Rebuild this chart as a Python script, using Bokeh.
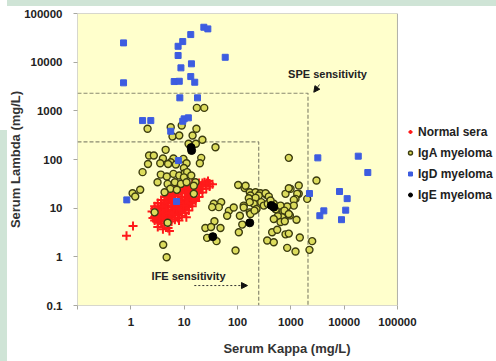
from bokeh.plotting import figure
from bokeh.models import (Range1d, FixedTicker, CustomJSTickFormatter, Label, Arrow,
                          NormalHead, Legend, LegendItem)
from bokeh.embed import file_html
from bokeh.resources import INLINE

# ---------------- data (kappa mg/L, lambda mg/L) ----------------
normal_sera = [
    (0.83, 2.7), (1.1, 4.3), (3.2, 4.1), (4.0, 3.7), (5.3, 3.4), (5.0, 3.9), (2.6, 6.3),
    (34, 31), (24, 34), (28, 36), (2.5, 8.5), (11, 6.5), (8, 5.6),
    (2.8, 5.6), (2.8, 6.7), (2.8, 8.1), (2.8, 9.7), (2.8, 11),
    (3.2, 5.1), (3.2, 6.1), (3.2, 7.4), (3.2, 8.9), (3.2, 10.7), (3.2, 12.8),
    (3.7, 4.9), (3.7, 5.9), (3.7, 7.1), (3.7, 8.5), (3.7, 10.2), (3.7, 12.3), (3.7, 14.7),
    (4.3, 4.8), (4.3, 5.8), (4.3, 7.0), (4.3, 8.4), (4.3, 10.1), (4.3, 12.1), (4.3, 14.5), (4.3, 17.0),
    (5.0, 5.0), (5.0, 6.0), (5.0, 7.2), (5.0, 8.7), (5.0, 10.4), (5.0, 12.5), (5.0, 15.0), (5.0, 17.8), (5.0, 20.0),
    (5.8, 5.3), (5.8, 6.4), (5.8, 7.7), (5.8, 9.2), (5.8, 11.0), (5.8, 13.2), (5.8, 15.9), (5.8, 19.0), (5.8, 22.0),
    (6.7, 5.8), (6.7, 7.0), (6.7, 8.4), (6.7, 10.0), (6.7, 12.0), (6.7, 14.4), (6.7, 17.3), (6.7, 20.7), (6.7, 24.0),
    (7.7, 6.3), (7.7, 7.6), (7.7, 9.1), (7.7, 10.9), (7.7, 13.1), (7.7, 15.7), (7.7, 18.9), (7.7, 22.6), (7.7, 26.0),
    (9.0, 7.0), (9.0, 8.4), (9.0, 10.1), (9.0, 12.1), (9.0, 14.5), (9.0, 17.4), (9.0, 20.9), (9.0, 25.0), (9.0, 28.0),
    (10.5, 8.0), (10.5, 9.6), (10.5, 11.5), (10.5, 13.8), (10.5, 16.6), (10.5, 19.9), (10.5, 23.9), (10.5, 28.6),
    (12.2, 9.0), (12.2, 10.8), (12.2, 13.0), (12.2, 15.6), (12.2, 18.7), (12.2, 22.4), (12.2, 26.9), (12.2, 31.0),
    (14.2, 11.0), (14.2, 13.2), (14.2, 15.8), (14.2, 19.0), (14.2, 22.8), (14.2, 27.4), (14.2, 32.0),
    (16.5, 14.0), (16.5, 16.8), (16.5, 20.2), (16.5, 24.2), (16.5, 29.0), (16.5, 33.0),
    (19.0, 17.0), (19.0, 20.4), (19.0, 24.5), (19.0, 29.4), (19.0, 33.0),
    (22.0, 21.0), (22.0, 25.2), (22.0, 30.0), (22.0, 33.0),
    (26.0, 25.0), (26.0, 29.5), (26.0, 33.0),
    (30.0, 28.0), (30.0, 32.0),
    (3.0, 6.0), (3.5, 9.5), (4.0, 11.0), (4.7, 13.5), (5.4, 16.5), (6.2, 18.0), (7.2, 21.0),
    (8.3, 23.5), (9.8, 26.0), (11.3, 21.5), (13.2, 24.5), (15.3, 26.0), (17.7, 27.5), (20.5, 28.5),
    (3.4, 5.5), (4.6, 6.2), (6.2, 7.5), (8.3, 9.2), (11.3, 11.0), (13.2, 12.5), (15.3, 15.5),
    (3.0, 7.3), (3.5, 8.0), (4.0, 6.4), (4.6, 9.3), (5.4, 8.0), (6.2, 11.3), (7.2, 9.9),
    (8.3, 13.8), (9.8, 11.2), (11.3, 15.2), (13.2, 17.2), (15.3, 21.0), (17.7, 22.5), (20.5, 25.5),
]

iga_myeloma = [
    (17.3, 1150), (23.8, 1150), (2.06, 427), (5.6, 460), (9.0, 499), (17.0, 427),
    (6.05, 296), (8.1, 311), (14.4, 311), (22.0, 254), (12.1, 210), (16.6, 210), (38.7, 179),
    (4.5, 158), (2.2, 121), (2.7, 121), (4.0, 105), (6.3, 105), (9.7, 103), (20.9, 108), (918, 108),
    (5.6, 88), (3.56, 84), (5.0, 81), (7.0, 79), (2.1, 81), (11.1, 84), (19.7, 84), (9.9, 67),
    (1.66, 55), (3.65, 49), (4.73, 44.7), (6.3, 50.7), (8.1, 46.8), (10.3, 52), (11.4, 55), (13.6, 47), (9.9, 43),
    (3.17, 34), (4.9, 31.5), (6.7, 34), (8.7, 31.5), (11.1, 34), (16.3, 34), (15.2, 28.8),
    (5.5, 25), (7.3, 23.8), (4.3, 21.3), (15.2, 19.7),
    (1.08, 20.3), (1.21, 17.4), (1.5, 23.9),
    (2.8, 8.2), (4.9, 5.0), (4.05, 1.77), (4.7, 0.98),
    (103, 30), (136, 26), (142, 28.8), (170, 21.3), (218, 21.3), (270, 20.3), (350, 18.8), (175, 18.2),
    (251, 18.2), (218, 16.3), (163, 16), (202, 12.3), (170, 13.3), (279, 13.3), (131, 11.3), (312, 11.3),
    (370, 12.3), (480, 12.3), (520, 9.5),
    (36, 12.3), (49.5, 13.3), (44.7, 10.5), (33.6, 10.5), (69, 8.8), (85, 10.3), (64, 7.0), (131, 10.3),
    (111, 7.0), (170, 8.2), (228, 9.6), (175, 7.6), (209, 8.9), (123, 4.6),
    (37, 5.4), (25, 3.9), (32, 4.1), (48, 3.9), (27, 2.45), (40.5, 2.1), (106, 3.2), (92, 1.35),
    (336, 20.3), (387, 17.3), (417, 14.4), (796, 19.7), (988, 24.9), (918, 25.7), (1410, 29.2), (1410, 19.7),
    (1320, 19.7), (1225, 15.5), (1140, 14.8), (1140, 11.3), (855, 10.8), (641, 11.3), (719, 8.6), (762, 8.9),
    (960, 7.1), (918, 7.6), (690, 6.5), (570, 6.8), (641, 5.2), (772, 5.4), (1280, 5.8), (480, 6.0),
    (447, 3.2), (556, 3.6), (796, 2.9), (918, 3.0), (361, 2.16), (480, 2.0), (855, 1.53), (1225, 1.29),
    (1475, 2.5), (2520, 2.1), (2240, 1.39), (2030, 15.5), (3030, 37),
]

igd_myeloma = [
    (0.73, 24900), (0.73, 3760), (13.3, 36900), (9.4, 26500), (7.7, 21200), (7.7, 13700),
    (13.7, 9250), (8.7, 7640), (13.3, 5060), (6.5, 4000), (8.1, 4050), (15.8, 3870),
    (8.3, 1850), (17.8, 1850), (1.66, 631), (2.37, 631), (10, 684), (12, 718), (9.4, 611),
    (5.6, 380), (23.4, 52200), (27.8, 48300), (58.9, 12600), (0.84, 14.8), (7.2, 13.7), (7.8, 95),
    (3210, 108), (18400, 117), (27800, 54), (2240, 20), (8190, 22), (11400, 15.7),
    (4160, 8.8), (3500, 7.0), (10700, 9.1), (8930, 5.8),
]

ige_myeloma = [(13.5, 176), (13.8, 153), (170, 5.0), (34.5, 2.6), (430, 11.4), (480, 10.5)]

# sensitivity limits (kappa, lambda)
spe_limit = (2100, 2300)
ife_limit = (250, 230)

axis_min, axis_max = 0.1, 100000
axis_ticks = [0.1, 1, 10, 100, 1000, 10000, 100000]
series_names = ["Normal sera", "IgA myeloma", "IgD myeloma", "IgE myeloma"]

FONT = "Liberation Sans"
GREEN = "#cfe4d6"

# the frame is widened to the right (to hold the legend); the yellow plot area
# is drawn as a box from axis_min to axis_max
p = figure(width=496, height=361, x_axis_type="log", y_axis_type="log",
           x_range=Range1d(axis_min, 7.2e6), y_range=Range1d(axis_min, axis_max),
           output_backend="svg", toolbar_location=None,
           min_border_left=77, min_border_right=0, min_border_top=13, min_border_bottom=56,
           background_fill_color=None, border_fill_color=None, outline_line_color=None)
p.styles = {"background": (f"linear-gradient({GREEN},{GREEN}) 7px 0px / 489px 6px no-repeat, "
                           f"linear-gradient({GREEN},{GREEN}) 0px 130px / 7px 231px no-repeat, white")}
p.grid.visible = False

p.quad(left=[axis_min], right=[axis_max], bottom=[axis_min], top=[axis_max],
       fill_color="#ffffcc", line_color="#b0b0a8", line_width=1)

for ax, fmt in ((p.xaxis[0], 'return tick < 0.5 ? "" : tick.toFixed(0);'),
                (p.yaxis[0], 'return tick < 0.5 ? "0.1" : tick.toFixed(0);')):
    ax.ticker = FixedTicker(ticks=axis_ticks)
    ax.formatter = CustomJSTickFormatter(code=fmt)
    ax.minor_tick_line_color = None
    ax.major_tick_in = 0
    ax.major_tick_out = 4
    ax.axis_line_color = None
    ax.major_tick_line_color = "#a8a8a0"
    ax.major_label_text_font = FONT
    ax.major_label_text_font_style = "bold"
    ax.major_label_text_font_size = "11.5px"
    ax.major_label_text_color = "#222222"
    ax.axis_label_text_font = FONT
    ax.axis_label_text_font_style = "bold"
    ax.axis_label_text_font_size = "13px"
    ax.axis_label_text_color = "#333333"

p.xaxis.axis_label = "Serum Kappa (mg/L)"
p.yaxis.axis_label = "Serum Lambda (mg/L)"
p.xaxis.major_label_standoff = 8
p.yaxis.major_label_standoff = 11
p.xaxis.axis_label_standoff = 12
p.yaxis.axis_label_standoff = -2

# sensitivity dashed boxes
dash_col = "#8a8a70"
p.line([axis_min, spe_limit[0], spe_limit[0]], [spe_limit[1], spe_limit[1], axis_min],
       line_color=dash_col, line_dash="4 2", line_width=1.2)
p.line([axis_min, ife_limit[0], ife_limit[0]], [ife_limit[1], ife_limit[1], axis_min],
       line_color=dash_col, line_dash="4 2", line_width=1.2)

def cols(pts):
    return [a for a, b in pts], [b for a, b in pts]

nk, nl = cols(normal_sera)
ak, al = cols(iga_myeloma)
dk, dl = cols(igd_myeloma)
ek, el = cols(ige_myeloma)

r_norm = p.scatter(nk, nl, marker="cross", size=9, line_color="#ff1a1a", line_width=2)
r_iga = p.scatter(ak, al, marker="circle", size=7, fill_color="#dcdc5c", line_color="#3c3c10",
                  line_width=1.4)
r_igd = p.scatter(dk, dl, marker="square", size=6, fill_color="#3d5ce0", line_color="#3d5ce0")
r_ige = p.scatter(ek, el, marker="circle", size=8, fill_color="black", line_color="black")

# annotations
p.add_layout(Label(x=4880, y=5840, text="SPE sensitivity", text_align="center",
                   text_baseline="middle", text_font=FONT, text_font_style="bold",
                   text_font_size="11px", text_color="#222222"))
p.add_layout(Label(x=12.1, y=0.40, text="IFE sensitivity", text_align="center",
                   text_baseline="middle", text_font=FONT, text_font_style="bold",
                   text_font_size="11px", text_color="#222222"))
p.add_layout(Arrow(end=NormalHead(size=6, fill_color="#111111", line_color="#111111"),
                   x_start=3450, y_start=3470, x_end=2700, y_end=2410,
                   line_color="#333333", line_width=1))
p.add_layout(Arrow(end=NormalHead(size=6, fill_color="#111111", line_color="#111111"),
                   x_start=15.5, y_start=0.257, x_end=154, y_end=0.257,
                   line_color="#333333", line_width=1, line_dash="2 2"))

legend = Legend(items=[LegendItem(label=series_names[0], renderers=[r_norm]),
                       LegendItem(label=series_names[1], renderers=[r_iga]),
                       LegendItem(label=series_names[2], renderers=[r_igd]),
                       LegendItem(label=series_names[3], renderers=[r_ige])],
                location=(328, 103), border_line_color=None, background_fill_alpha=0,
                label_text_font=FONT, label_text_font_style="bold", label_text_font_size="12px",
                label_text_color="#222222", glyph_width=10, glyph_height=15, label_height=15,
                spacing=6, padding=0, margin=0, label_standoff=3)
p.add_layout(legend)

open("out.html", "w").write(file_html(p, INLINE))
